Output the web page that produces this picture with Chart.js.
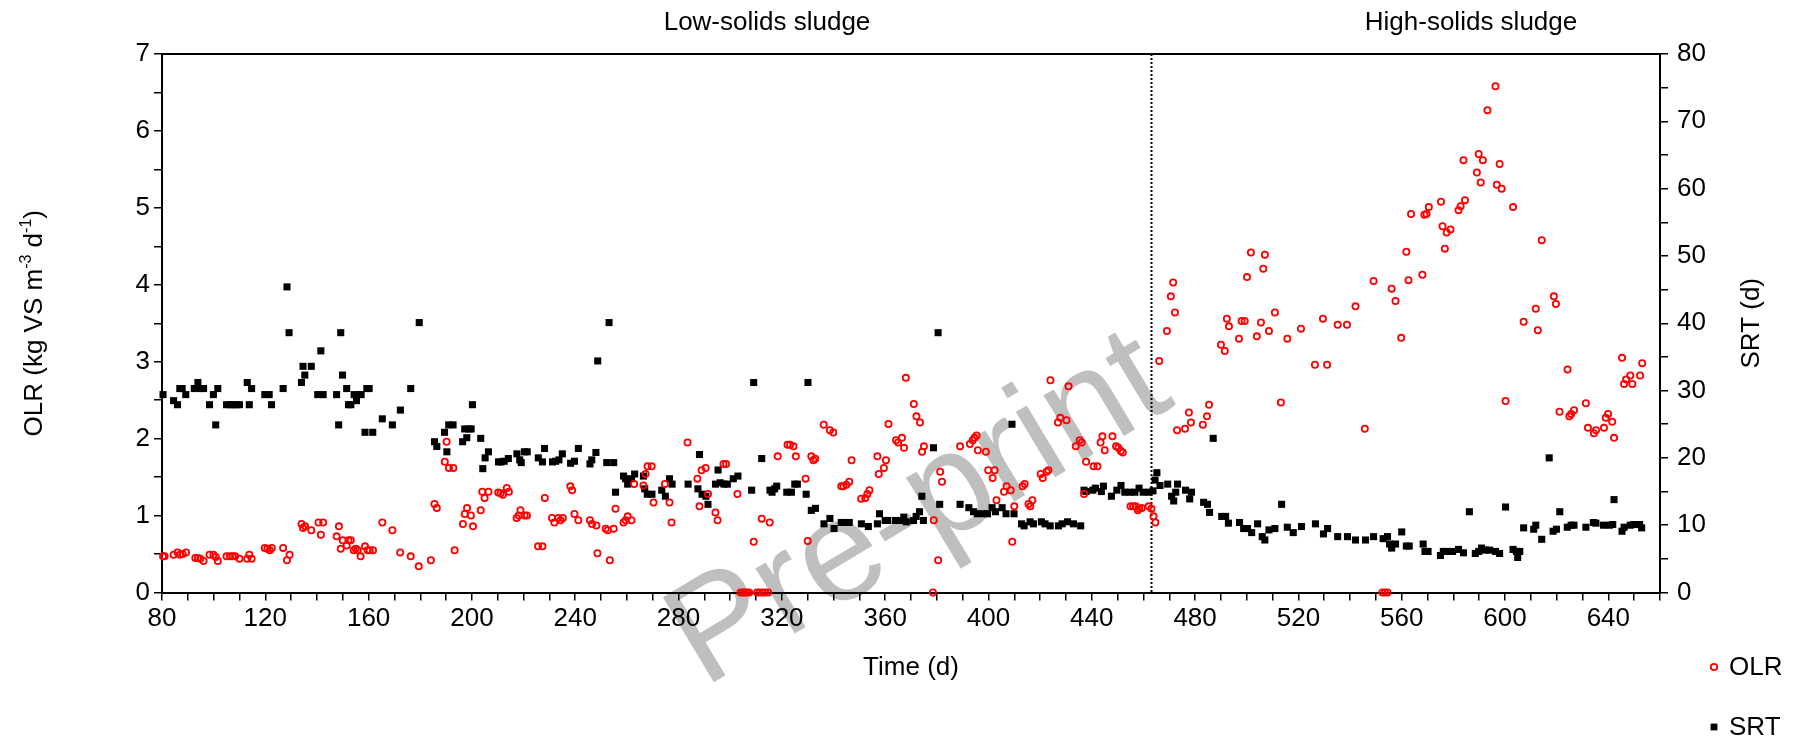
<!DOCTYPE html>
<html><head><meta charset="utf-8">
<script src="https://cdn.jsdelivr.net/npm/chart.js@4.4.1/dist/chart.umd.min.js"></script>
<style>html,body{margin:0;padding:0;background:#fff}canvas{display:block}</style>
</head><body>
<canvas id="c" width="1796" height="741"></canvas>
<script>
// ---------- DATA ----------
const olrDay = [80.4,81.0,84.5,86.0,87.0,88.0,89.3,92.9,93.9,94.8,96.1,98.4,99.9,100.8,101.6,105.0,106.3,107.3,108.3,110.0,113.0,113.8,114.7,119.8,120.8,121.7,122.5,126.9,128.4,129.4,134.0,134.6,135.4,137.8,140.6,141.5,142.4,147.6,148.5,149.2,150.0,151.5,152.2,153.1,154.2,155.0,155.8,156.9,158.6,159.6,160.4,161.7,165.3,169.2,172.2,176.3,179.4,184.1,185.5,186.4,189.5,190.2,191.1,192.8,193.3,196.5,197.2,198.1,199.6,200.4,203.4,204.0,204.9,206.4,210.2,211.1,212.0,213.5,214.3,217.3,218.1,218.8,220.4,221.3,225.6,227.3,228.2,231.0,231.9,233.4,234.3,235.2,238.1,238.8,239.7,241.2,245.7,246.5,248.2,248.6,251.8,252.6,253.4,254.9,255.6,258.7,259.5,260.3,261.8,262.8,266.4,267.2,268.0,269.6,270.3,274.7,276.5,277.3,283.5,287.3,288.1,288.9,290.5,291.4,294.3,295.1,297.4,298.4,302.8,304.0,304.9,305.7,306.5,307.3,309.1,310.4,311.4,312.2,312.5,313.5,314.7,315.3,318.4,322.2,323.2,324.5,325.4,329.2,330.0,331.4,332.2,332.9,336.2,338.6,339.9,343.0,343.8,345.0,346.1,347.0,350.7,352.3,353.1,353.9,357.0,357.5,359.5,360.3,361.3,364.2,365.0,366.5,367.3,368.0,371.1,372.1,373.5,374.3,375.0,378.5,378.8,380.5,381.3,382.0,389.0,392.8,393.9,394.6,395.4,395.9,399.0,399.9,401.6,402.4,403.1,406.0,407.0,408.6,409.2,410.0,413.2,414.0,415.5,416.2,417.0,420.2,421.0,422.5,423.2,424.0,426.9,427.8,430.2,431.0,433.8,435.3,436.1,437.0,437.8,440.7,442.2,443.4,444.1,445.0,448.0,449.4,450.3,451.2,452.0,455.0,456.0,457.0,457.8,458.4,459.4,462.0,463.1,463.9,464.6,466.1,469.1,470.6,471.5,472.2,473.0,476.1,477.6,478.4,483.0,484.6,485.4,490.0,491.5,492.3,493.1,497.0,498.0,499.2,500.1,501.6,503.9,505.5,506.4,507.0,508.6,510.9,513.2,515.7,521.0,526.4,529.5,531.1,535.2,538.8,542.1,545.7,549.1,552.5,553.5,554.5,556.1,557.6,559.8,561.8,562.6,563.6,568.0,568.8,569.6,570.5,575.2,575.8,576.7,577.4,578.9,582.0,582.8,583.9,584.5,589.1,589.8,590.6,591.4,593.2,596.3,596.8,597.9,598.7,600.2,603.1,607.2,611.9,612.7,614.2,618.9,619.7,621.1,624.2,624.9,625.6,626.7,631.3,632.1,634.4,635.2,638.3,639.0,639.9,641.5,642.2,645.3,646.1,646.9,648.5,649.3,652.3,653.1];
const olrVal = [0.47,0.47,0.49,0.52,0.49,0.50,0.52,0.45,0.45,0.44,0.41,0.49,0.49,0.46,0.41,0.47,0.47,0.47,0.47,0.44,0.44,0.49,0.44,0.58,0.57,0.55,0.58,0.58,0.42,0.49,0.89,0.84,0.86,0.81,0.91,0.75,0.91,0.73,0.86,0.57,0.68,0.61,0.68,0.68,0.55,0.57,0.55,0.47,0.60,0.55,0.55,0.55,0.91,0.81,0.52,0.47,0.34,0.42,1.15,1.10,1.70,1.96,1.62,1.62,0.55,0.89,1.02,1.10,1.00,0.86,1.07,1.31,1.23,1.31,1.30,1.29,1.27,1.36,1.31,0.97,1.00,1.07,1.00,1.00,0.60,0.60,1.23,0.97,0.91,0.97,0.94,0.97,1.38,1.33,1.02,0.94,0.94,0.89,0.87,0.51,0.83,0.81,0.42,0.83,1.09,0.91,0.94,0.99,0.94,1.41,1.39,1.54,1.64,1.64,1.17,1.41,1.17,0.91,1.95,1.48,1.12,1.59,1.62,1.28,1.04,0.94,1.67,1.67,1.28,0,0,0,0,0,0.66,0,0,0.96,0,0,0,0.91,1.77,1.92,1.92,1.90,1.77,1.48,0.67,1.77,1.72,1.74,2.18,2.11,2.08,1.38,1.38,1.40,1.44,1.72,1.22,1.23,1.28,1.33,1.77,1.54,1.62,1.72,2.19,1.98,1.95,2.01,1.88,2.79,2.45,2.29,2.21,1.83,1.90,0,0.94,0.42,1.57,1.44,1.90,1.93,1.98,2.01,2.04,1.85,1.83,1.59,1.49,1.59,1.20,1.31,1.38,1.33,0.66,1.12,1.38,1.41,1.15,1.12,1.20,1.54,1.49,1.57,1.59,2.76,2.21,2.27,2.24,2.68,1.90,1.98,1.95,1.28,1.70,1.64,1.64,1.95,2.03,1.85,2.03,1.90,1.88,1.84,1.82,1.12,1.12,1.12,1.07,1.09,1.10,1.12,1.09,0.99,0.91,3.01,3.40,3.85,4.03,3.64,2.11,2.13,2.34,2.21,2.18,2.29,2.44,3.22,3.14,3.56,3.46,3.30,3.53,3.53,4.10,4.42,3.33,3.51,4.21,4.39,3.40,3.64,2.47,3.30,3.43,2.96,3.56,2.96,3.48,3.48,3.72,2.13,4.05,0,0,0,3.95,3.79,3.31,4.43,4.06,4.92,4.13,4.91,4.92,5.01,5.08,4.76,4.47,4.68,4.72,4.97,5.02,5.62,5.10,5.46,5.70,5.33,5.62,6.27,6.58,5.30,5.57,5.25,2.49,5.01,3.52,3.69,3.41,4.58,3.85,3.75,2.35,2.90,2.29,2.32,2.37,2.46,2.14,2.07,2.11,2.14,2.27,2.32,2.22,2.01,3.05,2.71,2.77,2.82,2.71,2.82,2.98];

const srtDay = [80.4,84.5,86.0,86.9,87.8,89.2,92.5,93.9,94.8,96.1,98.4,99.9,100.8,101.6,105.0,106.5,107.6,108.8,110.0,113.0,113.8,114.7,119.8,121.5,122.4,126.9,128.4,129.2,134.0,134.6,135.3,137.8,140.3,141.5,142.4,147.6,148.4,149.2,149.9,151.5,152.2,153.1,154.4,155.3,156.0,157.1,158.6,159.3,160.2,161.6,165.3,169.2,172.3,176.3,179.6,185.5,186.4,189.4,190.3,191.0,192.7,196.4,197.2,198.0,198.8,199.7,200.2,203.4,204.2,205.1,206.4,210.3,211.3,212.5,214.1,217.4,218.5,219.1,220.3,221.4,225.7,227.3,228.1,231.2,232.4,233.7,235.0,238.2,239.7,241.2,245.7,246.4,248.0,248.7,252.2,253.1,254.9,255.6,258.7,259.5,260.3,261.8,263.0,266.4,266.9,267.9,269.7,273.5,274.9,276.5,277.5,283.7,287.5,288.1,289.1,290.6,291.4,294.3,295.3,296.1,297.6,298.9,301.2,303.0,308.3,309.1,312.2,315.4,316.2,317.2,318.0,321.9,323.7,325.0,326.0,329.4,330.1,331.4,333.0,336.3,338.6,340.2,343.0,344.6,346.1,350.8,353.5,357.0,357.8,360.0,361.0,364.0,366.5,367.2,368.2,371.0,372.0,373.3,374.2,374.8,378.7,380.5,381.1,389.0,392.4,394.2,395.7,398.1,399.6,401.4,402.7,405.3,406.8,409.1,409.9,412.8,413.8,416.1,417.4,420.5,421.9,423.9,427.1,428.5,430.6,432.9,435.7,437.0,437.8,440.4,441.4,443.7,444.5,447.6,449.7,451.3,452.8,454.8,456.7,458.3,459.9,462.1,463.7,464.5,465.2,466.4,469.4,470.9,471.7,472.5,473.2,476.3,477.9,478.6,483.3,484.8,485.6,487.0,490.3,491.8,492.9,497.2,498.8,500.3,501.9,504.2,506.0,507.0,508.6,510.9,513.5,515.7,518.0,521.2,526.6,529.7,531.3,535.2,539.0,542.1,546.0,549.1,552.8,554.5,555.3,556.1,557.6,560.0,561.8,562.9,568.3,569.0,570.2,575.0,576.1,577.4,579.7,582.0,583.9,586.2,588.5,589.8,590.9,592.4,594.0,596.3,597.9,600.2,603.1,604.4,604.9,605.7,607.2,611.1,611.9,614.2,617.1,618.6,619.9,621.2,624.1,625.6,626.7,631.3,634.2,635.2,638.1,640.4,641.7,642.2,645.3,646.1,648.5,649.8,652.1,652.9];
const srtVal = [29.4,28.5,27.9,30.3,30.3,29.4,30.3,31.2,30.3,30.3,27.9,29.4,24.9,30.3,27.9,27.9,27.9,27.9,27.9,31.2,27.9,30.3,29.4,29.4,27.9,30.3,45.4,38.6,31.2,33.6,32.3,33.6,29.4,35.9,29.4,29.4,24.9,38.6,32.3,30.3,27.9,27.9,29.4,28.5,29.4,29.4,23.8,30.3,30.3,23.8,25.8,24.9,27.1,30.3,40.1,22.4,21.7,23.8,20.9,24.9,24.9,22.4,24.3,23.0,24.3,24.3,27.9,22.9,18.4,20.0,20.9,19.4,19.4,19.5,19.9,20.6,19.7,19.3,20.9,20.9,20.0,19.4,21.4,19.4,19.5,19.7,20.6,19.2,19.5,21.4,19.1,19.7,20.8,34.4,19.3,40.1,19.3,14.9,17.3,16.9,16.1,16.9,17.6,17.3,15.4,14.6,14.6,15.2,14.3,16.9,16.1,16.1,15.4,20.5,14.6,14.3,13.1,16.1,18.2,16.3,16.1,16.1,16.9,17.3,15.2,31.2,19.9,15.2,14.9,15.4,15.8,14.9,14.9,16.1,16.1,14.6,31.2,12.2,12.5,10.2,11.0,9.5,10.4,10.4,10.4,10.2,9.8,10.2,11.7,10.7,10.7,10.7,10.7,11.2,10.5,10.7,11.3,12.0,14.3,10.7,21.5,38.6,13.1,13.1,12.6,12.0,11.7,11.7,11.7,12.6,12.0,12.6,11.7,25.0,11.7,10.2,9.9,10.5,10.2,10.5,10.2,9.9,9.9,10.2,10.5,10.2,9.9,15.2,15.0,15.2,15.5,15.0,15.8,14.3,15.2,15.9,14.9,14.9,14.9,15.5,14.9,14.9,15.1,16.7,17.8,15.9,16.1,14.3,13.6,14.9,16.1,15.2,13.9,14.9,13.4,13.1,11.9,22.9,11.3,11.3,10.3,10.4,9.5,9.5,8.9,10.2,8.3,7.8,9.3,9.5,13.1,9.7,8.9,9.8,10.2,8.7,9.5,8.3,8.3,7.8,7.8,8.3,8.0,8.3,7.2,6.6,7.2,9.0,6.9,6.9,7.2,6.1,6.1,5.5,6.1,6.1,6.1,6.4,5.9,12.0,5.8,6.1,6.6,6.3,6.3,6.1,5.8,12.7,6.4,6.1,5.2,6.1,9.6,9.4,10.0,7.9,20.0,9.1,9.4,12.0,9.7,10.0,10.0,9.7,10.4,10.3,10.0,10.0,10.1,13.8,9.1,9.7,10.0,10.1,10.1,9.6];

const xTickLabels = [80,120,160,200,240,280,320,360,400,440,480,520,560,600,640];
const leftTickLabels = [0,1,2,3,4,5,6,7];
const rightTickLabels = [0,10,20,30,40,50,60,70,80];
const phaseChangeDay = 463;
const seriesNames = ['OLR','SRT'];
const sectionTitles = ['Low-solids sludge','High-solids sludge'];

// ---------- CHART ----------
const FONT = "'Liberation Sans', Arial, Helvetica, sans-serif";
const FS = 26;
const W = 1796, H = 741;
const AREA = {left:162, right:1660, top:54, bottom:592.5};

function pts(xs, ys){ return xs.map((x,i)=>({x:x, y:ys[i]})); }

const decor = {
  id:'decor',
  beforeDraw(chart){
    const ctx = chart.ctx;
    ctx.save();
    ctx.fillStyle = '#fff';
    ctx.fillRect(0,0,chart.width,chart.height);
    ctx.translate(920, 512);
    ctx.rotate(-31*Math.PI/180);
    ctx.font = `144px ${FONT}`;
    ctx.fillStyle = 'rgb(191,191,191)';
    ctx.textAlign = 'center';
    ctx.textBaseline = 'middle';
    ctx.fillText('Pre-print', 0, 0);
    ctx.restore();
  },
  beforeDatasetsDraw(chart){
    const {ctx, chartArea:a, scales:{x}} = chart;
    ctx.save();
    const px = Math.round(x.getPixelForValue(phaseChangeDay)) + 0.5;
    ctx.strokeStyle = '#000';
    ctx.lineWidth = 2;
    ctx.setLineDash([2,2]);
    ctx.beginPath(); ctx.moveTo(px, a.top); ctx.lineTo(px, a.bottom); ctx.stroke();
    ctx.restore();
  },
  afterDraw(chart){
    const {ctx, chartArea:a} = chart;
    ctx.save();
    ctx.fillStyle = '#000';
    ctx.strokeStyle = '#000';
    ctx.lineWidth = 2;
    ctx.beginPath(); ctx.moveTo(a.left-1, a.top); ctx.lineTo(a.right+1, a.top); ctx.stroke();

    ctx.font = `${FS}px ${FONT}`;
    ctx.textAlign = 'center';
    ctx.textBaseline = 'alphabetic';
    ctx.fillText(sectionTitles[0], 767, 30);
    ctx.fillText(sectionTitles[1], 1471, 30);

    ctx.textBaseline = 'middle';
    ctx.fillText('Time (d)', (a.left+a.right)/2, 668);

    const parts = [['OLR (kg VS m',0],['-3',1],[' d',0],['-1',1],[')',0]];
    const supFS = 16;
    let total = 0;
    parts.forEach(p=>{ ctx.font = `${p[1]?supFS:FS}px ${FONT}`; p.w = ctx.measureText(p[0]).width; total += p.w; });
    ctx.save();
    ctx.translate(33, (a.top+a.bottom)/2);
    ctx.rotate(-Math.PI/2);
    ctx.textAlign = 'left';
    ctx.textBaseline = 'alphabetic';
    let cx = -total/2;
    parts.forEach(p=>{
      ctx.font = `${p[1]?supFS:FS}px ${FONT}`;
      ctx.fillText(p[0], cx, p[1] ? -2 : 9);
      cx += p.w;
    });
    ctx.restore();

    ctx.save();
    ctx.translate(1752, (a.top+a.bottom)/2);
    ctx.rotate(-Math.PI/2);
    ctx.font = `${FS}px ${FONT}`;
    ctx.textAlign = 'center';
    ctx.textBaseline = 'middle';
    ctx.fillText('SRT (d)', 0, 0);
    ctx.restore();

    ctx.font = `${FS}px ${FONT}`;
    ctx.textAlign = 'left';
    ctx.textBaseline = 'middle';
    ctx.strokeStyle = '#ff0000';
    ctx.lineWidth = 1.8;
    ctx.beginPath(); ctx.arc(1714, 667, 3.2, 0, Math.PI*2); ctx.stroke();
    ctx.fillStyle = '#000';
    ctx.fillText(seriesNames[0], 1729, 668);
    ctx.fillRect(1714-3.4, 727-3.4, 6.8, 6.8);
    ctx.fillText(seriesNames[1], 1729, 728);
    ctx.restore();
  }
};

const tickFont = {family: FONT, size: FS};
const gridOpt = {display:true, drawOnChartArea:false, drawTicks:true, tickLength:8, color:'#000', lineWidth:1.5};
const borderOpt = {display:true, color:'#000', width:2};

new Chart(document.getElementById('c'), {
  type: 'scatter',
  data: {
    datasets: [
      { label: seriesNames[0], data: pts(olrDay, olrVal), yAxisID: 'y',
        pointStyle: 'circle', pointRadius: 3.1, pointBorderWidth: 1.8,
        borderColor: '#ff0000', backgroundColor: 'rgba(255,255,255,0)', clip: false },
      { label: seriesNames[1], data: pts(srtDay, srtVal), yAxisID: 'y2',
        pointStyle: 'rect', pointRadius: 5, pointBorderWidth: 0,
        borderColor: '#000', backgroundColor: '#000', clip: false }
    ]
  },
  options: {
    responsive: false,
    animation: false,
    devicePixelRatio: 1,
    layout: { padding: { top: AREA.top, left: 0, right: 0, bottom: 0 } },
    plugins: { legend: {display:false}, tooltip: {enabled:false}, title:{display:false} },
    events: [],
    scales: {
      x: {
        type: 'linear', position: 'bottom', min: 80, max: 660,
        afterBuildTicks: s => { const t=[]; for (let v=80; v<=660; v+=10) t.push({value:v}); s.ticks = t; },
        afterFit: s => { s.height = H - AREA.bottom; },
        ticks: { autoSkip:false, maxRotation:0, padding:3, color:'#000', font: tickFont,
                 callback: v => xTickLabels.includes(v) ? String(v) : '' },
        grid: gridOpt, border: borderOpt
      },
      y: {
        type: 'linear', position: 'left', min: 0, max: 7,
        afterBuildTicks: s => { const t=[]; for (let i=0; i<=14; i++) t.push({value:i*0.5}); s.ticks = t; },
        afterFit: s => { s.width = AREA.left; },
        ticks: { autoSkip:false, padding:4, color:'#000', font: tickFont,
                 callback: v => leftTickLabels.includes(v) ? String(v) : '' },
        grid: gridOpt, border: borderOpt
      },
      y2: {
        type: 'linear', position: 'right', min: 0, max: 80,
        afterBuildTicks: s => { const t=[]; for (let v=0; v<=80; v+=5) t.push({value:v}); s.ticks = t; },
        afterFit: s => { s.width = W - AREA.right; },
        ticks: { autoSkip:false, padding:9, color:'#000', font: tickFont,
                 callback: v => rightTickLabels.includes(v) ? String(v) : '' },
        grid: gridOpt, border: borderOpt
      }
    }
  },
  plugins: [decor]
});
</script>
</body></html>
